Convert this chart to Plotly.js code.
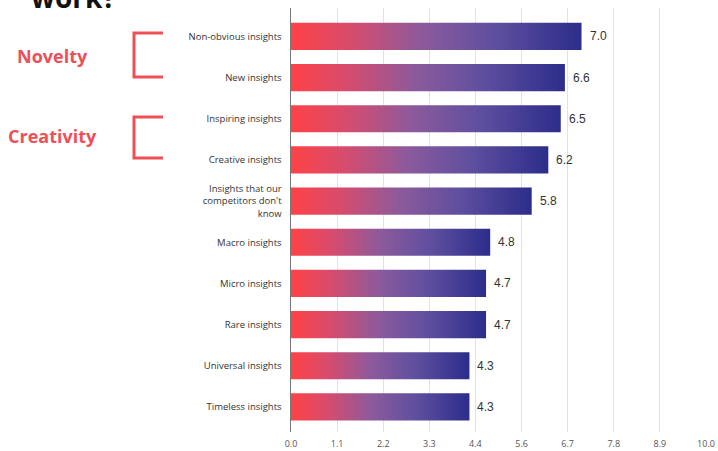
<!DOCTYPE html>
<html>
<head>
<meta charset="utf-8">
<script src="https://cdn.plot.ly/plotly-3.0.1.min.js"></script>
<style>
  html, body { margin: 0; padding: 0; background: #fff; }
  #chart { width: 718px; height: 451px; }
</style>
</head>
<body>
<svg width="0" height="0" style="position:absolute">
  <defs>
    <linearGradient id="barGrad" x1="0" y1="0" x2="1" y2="0">
      <stop offset="0" stop-color="#ff4246"/>
      <stop offset="0.2" stop-color="#d84c6c"/>
      <stop offset="0.45" stop-color="#8c5a9c"/>
      <stop offset="0.7" stop-color="#5f4f9f"/>
      <stop offset="1" stop-color="#2c2d8b"/>
    </linearGradient>
  </defs>
</svg>
<div id="chart"></div>
<script>
const categories = [
  "Non-obvious insights",
  "New insights",
  "Inspiring insights",
  "Creative insights",
  "Insights that our<br>competitors don't<br>know",
  "Macro insights",
  "Micro insights",
  "Rare insights",
  "Universal insights",
  "Timeless insights"
];
const values = [7.0, 6.6, 6.5, 6.2, 5.8, 4.8, 4.7, 4.7, 4.3, 4.3];
const groupLabels = ["Novelty", "Creativity"];
const headingFragment = "work?";

// pixel helpers for decorations in the margin
const PL = 291, PR = 706, PT = 8, PB = 432;
const px = x => (x - PL) / (PR - PL);
const py = y => 1 - (y - PT) / (PB - PT);

const red = '#ef4f57';

const annotations = values.map((v, i) => ({
  x: v, y: categories[i], xref: 'x', yref: 'y',
  text: v.toFixed(1), showarrow: false,
  xanchor: 'left', yanchor: 'middle', xshift: 6,
  font: { family: 'Liberation Sans, Arial, sans-serif', size: 12, color: '#333' }
}));

annotations.push(
  { x: px(52), y: py(56), xref: 'paper', yref: 'paper', text: '<b>' + groupLabels[0] + '</b>',
    showarrow: false, xanchor: 'center', yanchor: 'middle',
    font: { family: 'Open Sans, sans-serif', size: 18, color: red } },
  { x: px(52), y: py(136), xref: 'paper', yref: 'paper', text: '<b>' + groupLabels[1] + '</b>',
    showarrow: false, xanchor: 'center', yanchor: 'middle',
    font: { family: 'Open Sans, sans-serif', size: 18, color: red } },
  { x: px(74), y: py(18), xref: 'paper', yref: 'paper', text: '<b>' + headingFragment + '</b>',
    showarrow: false, xanchor: 'center', yanchor: 'bottom',
    font: { family: 'Open Sans, sans-serif', size: 28, color: '#111' } }
);

function bracket(top, bottom) {
  const x1 = px(134), x2 = px(163), y1 = py(top), y2 = py(bottom);
  return {
    type: 'path', xref: 'paper', yref: 'paper',
    path: `M ${x2} ${y1} L ${x1} ${y1} L ${x1} ${y2} L ${x2} ${y2}`,
    line: { color: red, width: 3 }
  };
}

const trace = {
  type: 'bar', orientation: 'h',
  x: values, y: categories,
  width: 0.66,
  marker: { color: '#6a4fa0', line: { width: 0 } },
  hoverinfo: 'none'
};

const layout = {
  width: 718, height: 451,
  margin: { l: PL, r: 718 - PR, t: PT, b: 451 - PB, pad: 0 },
  paper_bgcolor: '#fff', plot_bgcolor: '#fff',
  showlegend: false,
  bargap: 0.34,
  xaxis: {
    range: [0, 10], tick0: 0, dtick: 10 / 9, tickformat: '.1f',
    showgrid: true, gridcolor: '#e2e2e2', gridwidth: 1,
    zeroline: false, showline: false,
    ticks: 'outside', ticklen: 3, tickcolor: 'rgba(0,0,0,0)',
    tickfont: { family: 'Open Sans, sans-serif', size: 9, color: '#555' },
    automargin: false, fixedrange: true
  },
  yaxis: {
    type: 'category', range: [9.61, -0.69],
    showgrid: false, zeroline: false,
    showline: true, linecolor: '#777', linewidth: 1.5,
    ticks: 'outside', ticklen: 6, tickcolor: 'rgba(0,0,0,0)',
    tickfont: { family: 'Open Sans, sans-serif', size: 9.5, color: '#333' },
    automargin: false, fixedrange: true
  },
  annotations: annotations,
  shapes: [bracket(33, 77), bracket(117, 158)]
};

function applyGradient() {
  document.querySelectorAll('#chart .trace.bars .point path').forEach(p => {
    p.style.fill = 'url(#barGrad)';
    p.style.fillOpacity = 1;
  });
}

Plotly.newPlot('chart', [trace], layout, { displayModeBar: false, staticPlot: true })
  .then(gd => { applyGradient(); gd.on('plotly_afterplot', applyGradient); });
</script>
</body>
</html>
